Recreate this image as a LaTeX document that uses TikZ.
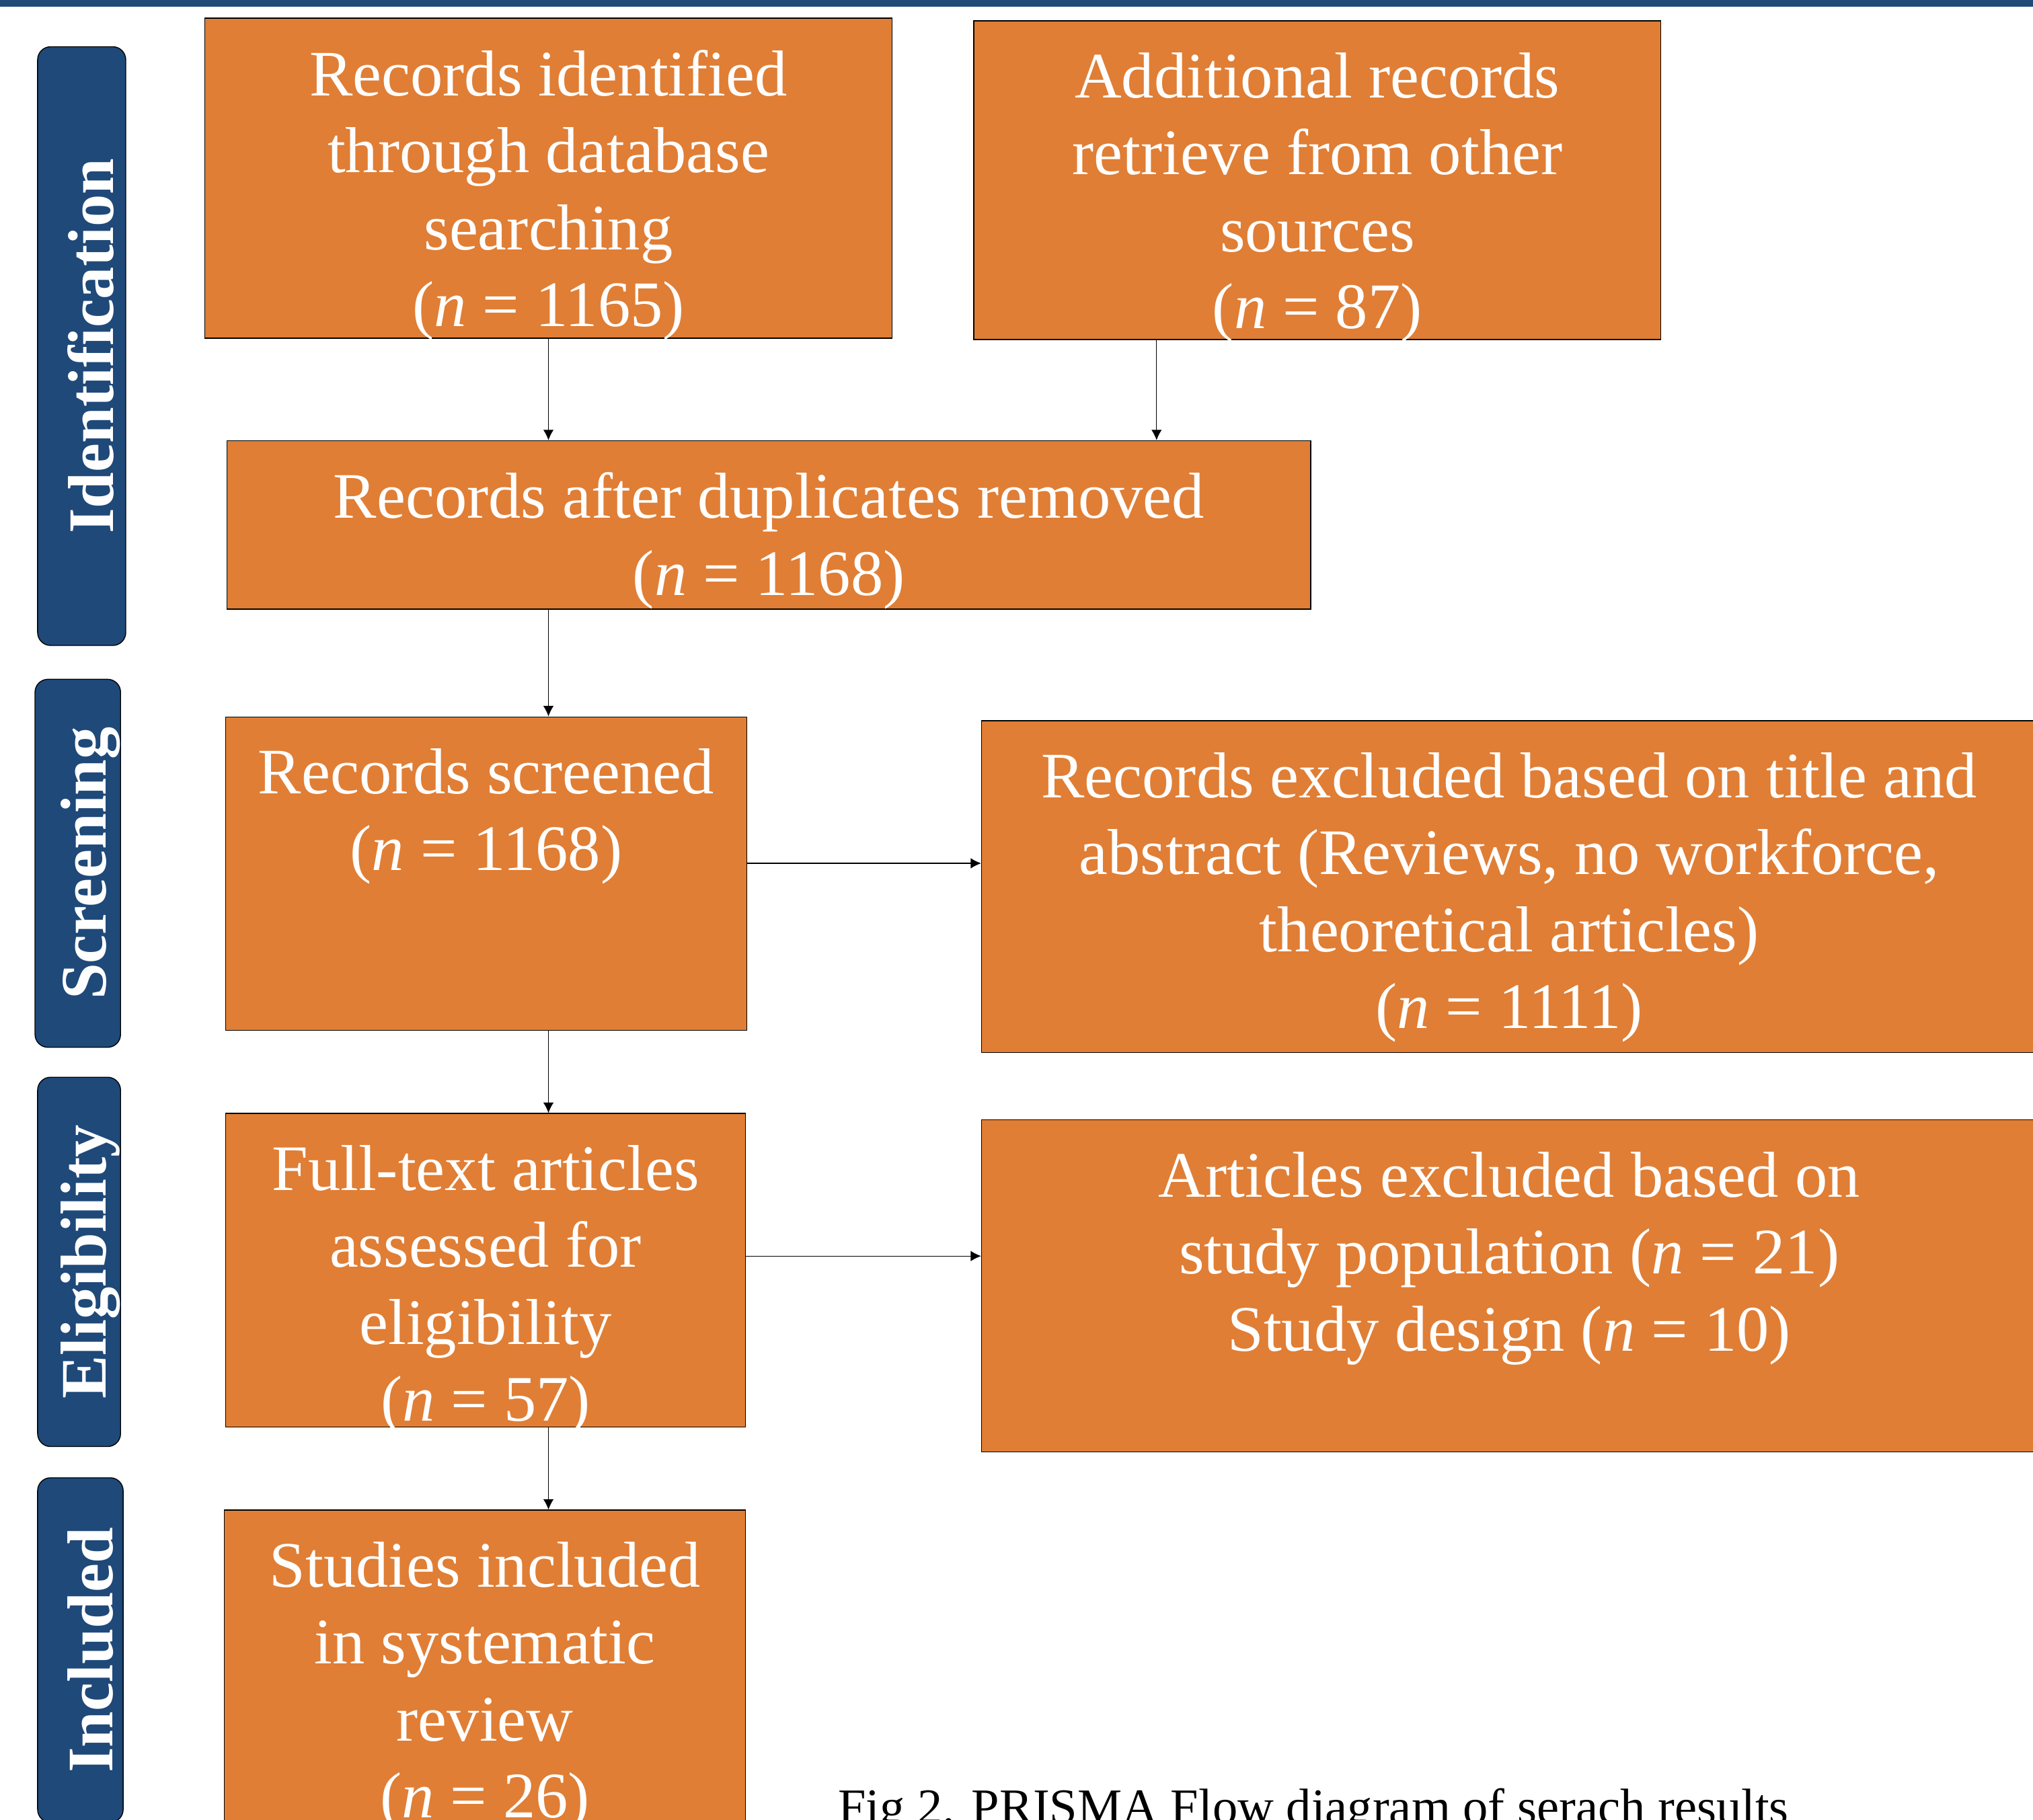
\documentclass[tikz,border=0pt]{standalone}
\usepackage{fontspec}
\setmainfont{Liberation Serif}
\usepackage{tikz}
\usetikzlibrary{positioning, arrows.meta}
\definecolor{prismaorange}{RGB}{224,126,53}
\definecolor{prismablue}{RGB}{31,73,121}
\tikzset{
->, % makes the connectors directed
>={Latex[length=4.6pt, width=4.6pt]}, % small filled triangle heads
line width=0.6pt,
flowbox/.style={draw=black, fill=prismaorange, inner sep=0pt}, % orange step boxes
flowtext/.style={text=white, align=center, inner sep=0pt, font=\fontsize{28.5}{33.8}\selectfont}, % text set at the top of a box
stagebox/.style={draw=black, fill=prismablue, rounded corners=0.2cm, inner sep=0pt}, % blue phase bars on the left
stagetext/.style={text=white, rotate=90, inner sep=0pt, font=\fontsize{28.5}{33.8}\selectfont\bfseries},
}

\begin{document}
\begin{tikzpicture}[x=0.02cm, y=-0.02cm]
            \useasboundingbox (0,0) rectangle (1568,1404);
            \fill[prismablue] (0,0) rectangle (1568,5);
            % phase bars
            \node[stagebox, minimum width=1.36cm, minimum height=9.24cm] (ident) at (63,267) {};
            \node[stagebox, minimum width=1.32cm, minimum height=5.68cm] (screen) at (60,666) {};
            \node[stagebox, minimum width=1.28cm, minimum height=5.7cm] (elig) at (61,973.5) {};
            \node[stagebox, minimum width=1.32cm, minimum height=5.32cm] (incl) at (62,1273) {};
            \node[stagetext] (ident-t) at (70,267) {Identification};
            \node[stagetext] (screen-t) at (70,666) {Screening};
            \node[stagetext] (elig-t) at (70,973.5) {Eligibility};
            \node[stagetext] (incl-t) at (70,1273) {Included};
            % step boxes
            \node[flowbox, minimum width=10.6cm, minimum height=4.94cm] (ra) at (423,137.5) {};
            \node[flowbox, minimum width=10.6cm, minimum height=4.92cm] (rb) at (1016,139) {};
            \node[flowbox, minimum width=16.72cm, minimum height=2.6cm] (rc) at (593,405) {};
            \node[flowbox, minimum width=8.04cm, minimum height=4.84cm] (rd) at (375,674) {};
            \node[flowbox, minimum width=16.28cm, minimum height=5.12cm] (re) at (1164,684) {};
            \node[flowbox, minimum width=8.02cm, minimum height=4.84cm] (rf) at (374.5,980) {};
            \node[flowbox, minimum width=16.28cm, minimum height=5.12cm] (rg) at (1164,992) {};
            \node[flowbox, minimum width=8.04cm, minimum height=4.84cm] (rh) at (374,1286) {};
            \node[flowtext, below=0.49cm of ra.north] (ra-t) {Records identified\\through database\\searching\\(\textit{n} = 1165)};
            \node[flowtext, below=0.49cm of rb.north] (rb-t) {Additional records\\retrieve from other\\sources\\(\textit{n} = 87)};
            \node[flowtext, below=0.49cm of rc.north] (rc-t) {Records after duplicates removed\\(\textit{n} = 1168)};
            \node[flowtext, below=0.49cm of rd.north] (rd-t) {Records screened\\(\textit{n} = 1168)};
            \node[flowtext, below=0.49cm of re.north] (re-t) {Records excluded based on title and\\abstract (Reviews, no workforce,\\theoretical articles)\\(\textit{n} = 1111)};
            \node[flowtext, below=0.49cm of rf.north] (rf-t) {Full-text articles\\assessed for\\eligibility\\(\textit{n} = 57)};
            \node[flowtext, below=0.49cm of rg.north] (rg-t) {Articles excluded based on\\study population (\textit{n} = 21)\\Study design (\textit{n} = 10)};
            \node[flowtext, below=0.49cm of rh.north] (rh-t) {Studies included\\in systematic\\review\\(\textit{n} = 26)};
            \node[anchor=base west, inner sep=0pt, font=\fontsize{22}{26}\selectfont] (caption) at (646,1407) {Fig 2. PRISMA Flow diagram of serach results};
            \path
                (ra.south) edge (ra.south |- rc.north)
                ([xshift=-2.48cm]rb.south) edge ([xshift=-2.48cm]rb.south |- rc.north)
                (rc.south -| ra) edge (rd.north -| ra)
                ([yshift=0.16cm]rd.east) edge ([yshift=0.16cm]rd.east -| re.west)
                (rd.south -| ra) edge (rf.north -| ra)
                ([yshift=0.22cm]rf.east) edge ([yshift=0.22cm]rf.east -| rg.west)
                (rf.south -| ra) edge (rh.north -| ra)
                ;
        \end{tikzpicture}
\end{document}
